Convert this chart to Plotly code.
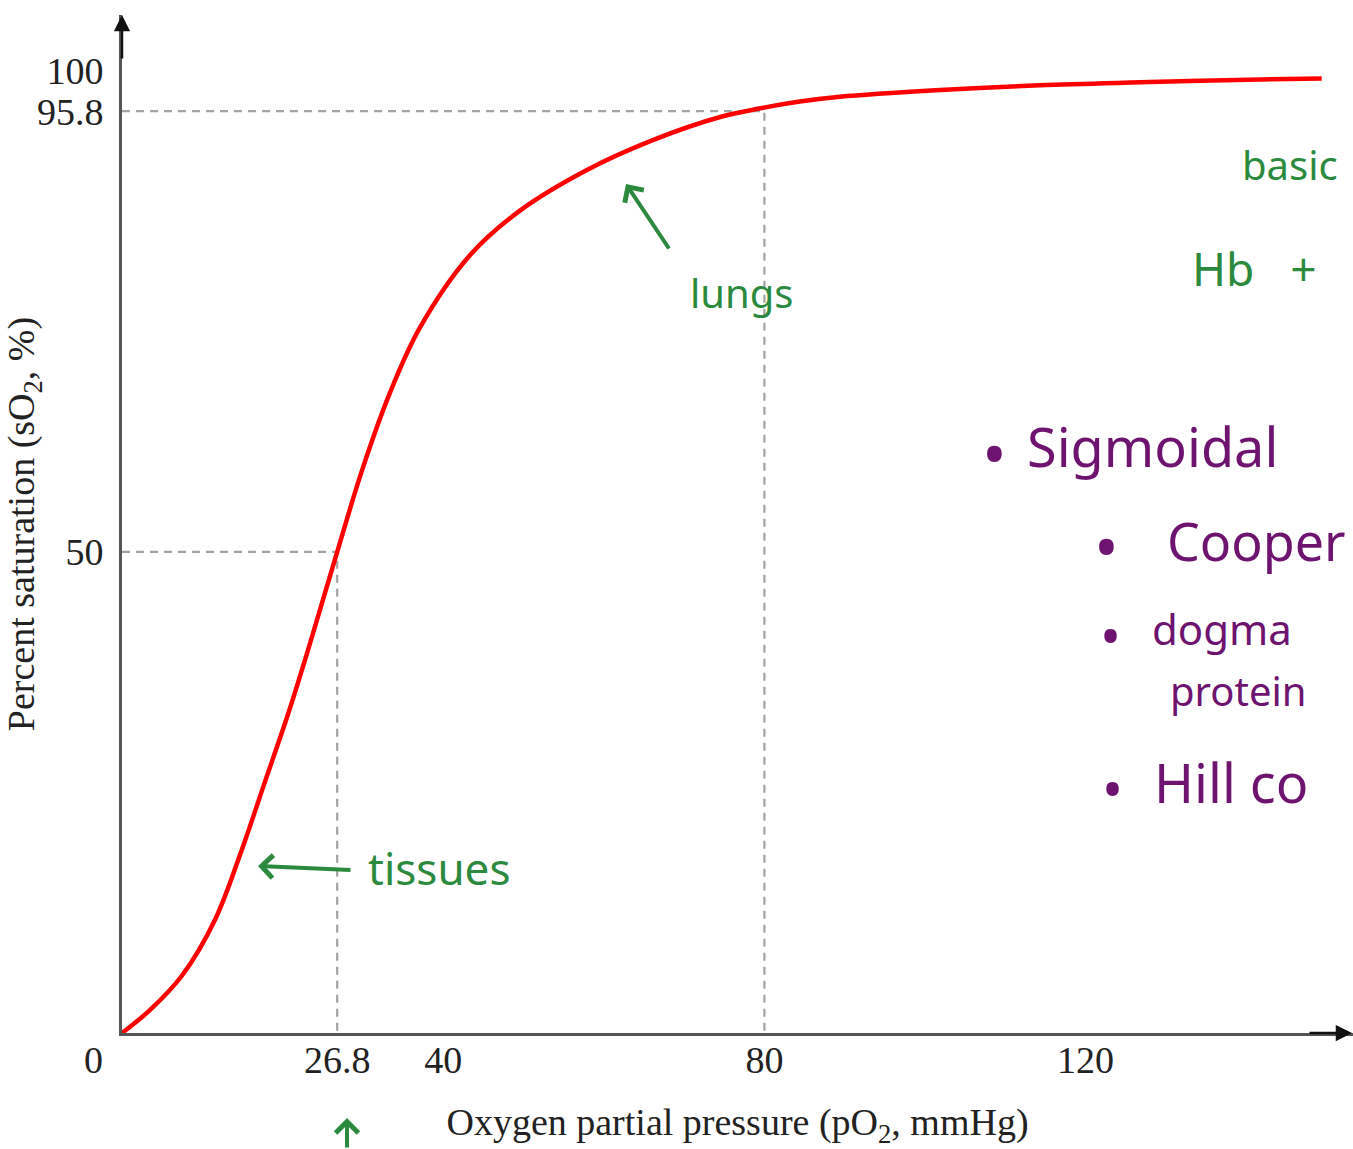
import plotly.graph_objects as go

# ---- data ----
pO2 = [0, 3.5, 7.5, 11.6, 14.9, 17.8, 20.7, 23.2, 26.8, 29.9, 33.4, 37.1, 43.3,
       49.6, 57.9, 66.1, 74.5, 79.5, 84.4, 89.4, 101.9, 114.3, 126.8, 141.7, 149.4]
sO2 = [0, 2.4, 6.0, 11.8, 19.0, 26.1, 33.2, 39.9, 50.0, 58.5, 66.6, 73.3, 80.8,
       85.5, 89.7, 92.8, 95.2, 96.1, 96.8, 97.3, 98.0, 98.5, 98.8, 99.1, 99.2]
ref_x = [26.8, 80]
ref_y = [50, 95.8]
x_ticks = [26.8, 40, 80, 120]
x_tick_text = ["26.8", "40", "80", "120"]
y_ticks = [50, 95.8, 100]
y_tick_text = ["50", "95.8", "100"]

# ---- layout geometry ----
W, H = 1353, 1149
L, R, T, B = 122, 0, 15, 116
X_MAX = 153.3
Y_MAX = 105.8
SERIF = "Liberation Serif, Times New Roman, serif"
HAND = "Noto Sans, sans-serif"
GREEN = "#2b8a3e"
PURPLE = "#6e1470"


def px(xp):
    return (xp - L) / (W - L - R)


def py(yp):
    return (H - B - yp) / (H - T - B)


fig = go.Figure()

for xv, yv in zip(ref_x, ref_y):
    fig.add_trace(go.Scatter(
        x=[0, xv, xv], y=[yv, yv, 0], mode="lines",
        line=dict(color="#a3a3a3", width=2.2, dash="8px,6px"),
        hoverinfo="skip", showlegend=False))

fig.add_trace(go.Scatter(
    x=pO2, y=sO2, mode="lines",
    line=dict(color="#ff0000", width=4.5, shape="spline", smoothing=1.0),
    showlegend=False))

annotations = []
# origin label
annotations.append(dict(x=px(93), y=py(1060), xref="paper", yref="paper",
                        text="0", showarrow=False, xanchor="center", yanchor="middle",
                        font=dict(family=SERIF, size=38, color="#222")))
# axis arrows
annotations.append(dict(x=px(122), y=py(15), xref="paper", yref="paper", text="",
                        showarrow=True, arrowhead=2, arrowsize=1.3, arrowwidth=2.5,
                        arrowcolor="#111", ax=0, ay=45))
annotations.append(dict(x=px(1353), y=py(1033), xref="paper", yref="paper", text="",
                        showarrow=True, arrowhead=2, arrowsize=1.3, arrowwidth=2.5,
                        arrowcolor="#111", ax=-45, ay=0))
# green arrows
for hx, hy, ax, ay in [(626, 184, 44, 66), (258, 866, 94, 4), (347, 1118, 0, 50)]:
    annotations.append(dict(x=px(hx), y=py(hy), xref="paper", yref="paper", text="",
                            showarrow=True, arrowhead=4, arrowsize=1.1, arrowwidth=4,
                            arrowcolor=GREEN, ax=ax, ay=ay))

notes = [
    ("lungs", 688, 292, 40, GREEN),
    ("tissues", 366, 868, 44, GREEN),
    ("basic", 1240, 165, 40, GREEN),
    ("Hb   +", 1190, 268, 46, GREEN),
    ("•", 980, 452, 66, PURPLE),
    ("Sigmoidal", 1025, 446, 54, PURPLE),
    ("•", 1092, 545, 66, PURPLE),
    ("Cooper", 1165, 540, 52, PURPLE),
    ("•", 1098, 635, 56, PURPLE),
    ("dogma", 1150, 628, 42, PURPLE),
    ("protein", 1168, 690, 40, PURPLE),
    ("•", 1100, 788, 56, PURPLE),
    ("Hill co", 1152, 782, 54, PURPLE),
]
for txt, xp, yp, size, col in notes:
    annotations.append(dict(x=px(xp), y=py(yp), xref="paper", yref="paper",
                            text=txt, showarrow=False, xanchor="left", yanchor="middle",
                            font=dict(family=HAND, size=size, color=col)))

fig.update_layout(
    width=W, height=H,
    margin=dict(l=L, r=R, t=T, b=B),
    paper_bgcolor="white", plot_bgcolor="white",
    template="none",
    showlegend=False,
    annotations=annotations,
    xaxis=dict(
        range=[0, X_MAX], showline=True, linecolor="#555", linewidth=3,
        showgrid=False, zeroline=False, ticks="",
        tickvals=x_ticks, ticktext=x_tick_text, ticklabelstandoff=-9,
        tickfont=dict(family=SERIF, size=38, color="#222"),
        title=dict(text="Oxygen partial pressure (pO<sub>2</sub>, mmHg)",
                   font=dict(family=SERIF, size=38, color="#222"), standoff=37),
        automargin=False,
    ),
    yaxis=dict(
        range=[0, Y_MAX], showline=True, linecolor="#555", linewidth=3,
        showgrid=False, zeroline=False, ticks="",
        tickvals=y_ticks, ticktext=y_tick_text, ticklabelstandoff=8,
        tickfont=dict(family=SERIF, size=38, color="#222"),
        title=dict(text="Percent saturation (sO<sub>2</sub>, %)",
                   font=dict(family=SERIF, size=38, color="#222"), standoff=12),
        automargin=False,
    ),
)

fig.write_html(
    "out.html",
    config={"displayModeBar": False},
    post_script="document.body.style.margin='0px';document.body.style.overflow='hidden';",
)
